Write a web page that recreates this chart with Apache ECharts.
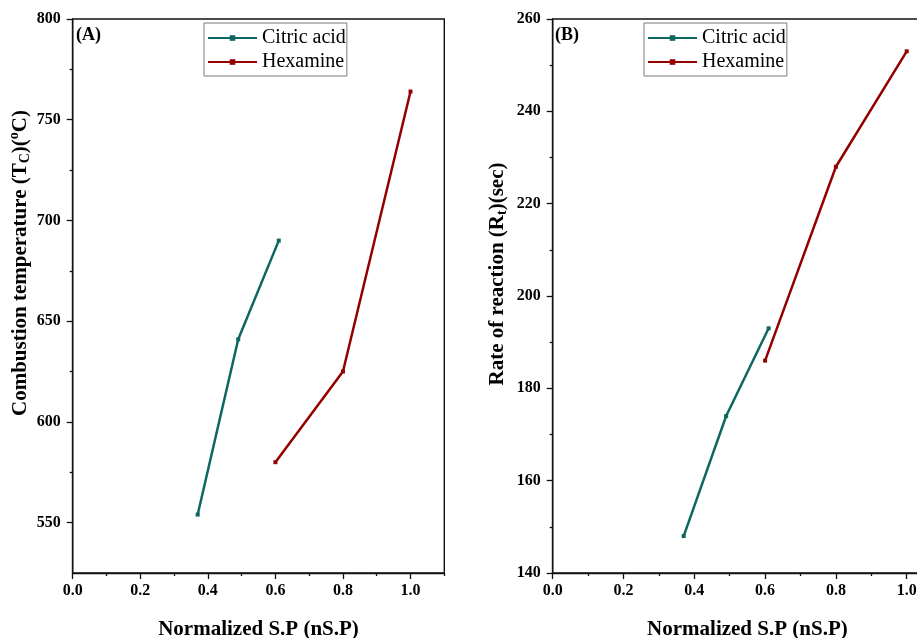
<!DOCTYPE html>
<html>
<head>
<meta charset="utf-8">
<title>Combustion temperature and rate of reaction vs normalized S.P</title>
<script src="https://cdn.jsdelivr.net/npm/echarts@6/dist/echarts.min.js"></script>
<style>
  html, body { margin: 0; padding: 0; background: #ffffff; }
  #chart { width: 917px; height: 638px; }
</style>
</head>
<body>
<div id="chart"></div>
<script>
// Normalized S.P (nS.P) of each fuel
const spCitric = [0.37, 0.49, 0.61];
const spHexamine = [0.6, 0.8, 1.0];

// (A) Combustion temperature Tc (°C)
const tempCitric = [554, 641, 690];
const tempHexamine = [580, 625, 764];

// (B) Rate of reaction Rt (sec)
const rateCitric = [148, 174, 193];
const rateHexamine = [186, 228, 253];

// Tick positions
const xMajorTicks = [0, 0.2, 0.4, 0.6, 0.8, 1.0];
const xMinorTicks = [0.1, 0.3, 0.5, 0.7, 0.9, 1.1];
const tempMajorTicks = [550, 600, 650, 700, 750, 800];
const tempMinorTicks = [575, 625, 675, 725, 775];
const rateMajorTicks = [140, 160, 180, 200, 220, 240, 260];
const rateMinorTicks = [150, 170, 190, 210, 230, 250];

const seriesNames = ['Citric acid', 'Hexamine'];
const panelTags = ['(A)', '(B)'];

const SERIF = '"Liberation Serif", "Times New Roman", serif';
const TEAL = '#0d6662';
const WINE = '#930000';
const AXIS_COLOR = '#111111';

function pairs(xs, ys) {
  return xs.map((x, i) => [x, ys[i]]);
}

const subSup = {
  sub: { fontFamily: SERIF, fontWeight: 'bold', fontSize: 14, color: '#000', verticalAlign: 'bottom', lineHeight: 25 },
  sup: { fontFamily: SERIF, fontWeight: 'bold', fontSize: 14, color: '#000', verticalAlign: 'top', lineHeight: 25 }
};

function xAxisPair(gridIndex) {
  return [
    {
      type: 'value', gridIndex, min: 0, max: 1.1, position: 'bottom',
      name: 'Normalized S.P (nS.P)', nameLocation: 'middle', nameGap: 46,
      nameTextStyle: { fontFamily: SERIF, fontWeight: 'bold', fontSize: 21, color: '#000' },
      axisLine: { show: true, onZero: false, lineStyle: { color: AXIS_COLOR, width: 1.4 } },
      axisTick: { show: true, inside: false, length: 6, customValues: xMajorTicks, lineStyle: { color: AXIS_COLOR, width: 1.3 } },
      axisLabel: {
        customValues: xMajorTicks, margin: 10,
        formatter: v => Number(v).toFixed(1),
        fontFamily: SERIF, fontWeight: 'bold', fontSize: 16, color: '#000'
      },
      splitLine: { show: false }
    },
    {
      type: 'value', gridIndex, min: 0, max: 1.1, position: 'bottom',
      axisLine: { show: false },
      axisTick: { show: true, inside: false, length: 3, customValues: xMinorTicks, lineStyle: { color: AXIS_COLOR, width: 1.3 } },
      axisLabel: { show: false },
      splitLine: { show: false }
    }
  ];
}

function yAxisPair(gridIndex, min, max, major, minor, name, nameGap, shift) {
  return [
    {
      type: 'value', gridIndex, min, max, position: 'left',
      name, nameLocation: 'middle', nameGap, nameRotate: 90,
      nameTextStyle: {
        fontFamily: SERIF, fontWeight: 'bold', fontSize: 21, color: '#000', lineHeight: 25,
        padding: [0, 0, 0, shift * 2], rich: subSup
      },
      axisLine: { show: true, onZero: false, lineStyle: { color: AXIS_COLOR, width: 1.4 } },
      axisTick: { show: true, inside: false, length: 6, customValues: major, lineStyle: { color: AXIS_COLOR, width: 1.3 } },
      axisLabel: {
        customValues: major, margin: 12,
        fontFamily: SERIF, fontWeight: 'bold', fontSize: 16, color: '#000'
      },
      splitLine: { show: false }
    },
    {
      type: 'value', gridIndex, min, max, position: 'left',
      axisLine: { show: false },
      axisTick: { show: true, inside: false, length: 3, customValues: minor, lineStyle: { color: AXIS_COLOR, width: 1.3 } },
      axisLabel: { show: false },
      splitLine: { show: false }
    }
  ];
}

function legendAt(left) {
  return {
    left, top: 23, orient: 'vertical', data: seriesNames,
    itemWidth: 49, itemHeight: 7, itemGap: 4,
    padding: [5, 1, 4, 3],
    borderColor: '#7a7a7a', borderWidth: 1,
    selectedMode: false,
    textStyle: { fontFamily: SERIF, fontSize: 20, color: '#000', lineHeight: 20 }
  };
}

function lineSeries(name, color, data, axisIndex) {
  return {
    type: 'line', name, data,
    xAxisIndex: axisIndex, yAxisIndex: axisIndex,
    symbol: 'rect', symbolSize: 4,
    lineStyle: { color, width: 2.5 },
    itemStyle: { color },
    emphasis: { disabled: true },
    animation: false
  };
}

const chart = echarts.init(document.getElementById('chart'), null, { renderer: 'canvas' });

chart.setOption({
  backgroundColor: '#ffffff',
  animation: false,
  grid: [
    { left: 72.7, top: 19, right: 472.7, bottom: 65, show: true, borderColor: AXIS_COLOR, borderWidth: 1.4, outerBoundsMode: 'none' },
    { left: 552.7, top: 19, width: 389.4, bottom: 65, show: true, borderColor: AXIS_COLOR, borderWidth: 1.4, outerBoundsMode: 'none' }
  ],
  xAxis: [...xAxisPair(0), ...xAxisPair(1)],
  yAxis: [
    ...yAxisPair(0, 525, 800, tempMajorTicks, tempMinorTicks,
      'Combustion temperature (T{sub|C})({sup|o}C)', 37, 33),
    ...yAxisPair(1, 140, 260, rateMajorTicks, rateMinorTicks,
      'Rate of reaction (R{sub|t})(sec)', 43, 22)
  ],
  legend: [legendAt(204), legendAt(644)],
  graphic: [
    { type: 'text', left: 76, top: 26, style: { text: panelTags[0], font: 'bold 18px ' + SERIF, fill: '#000' } },
    { type: 'text', left: 555, top: 26, style: { text: panelTags[1], font: 'bold 18px ' + SERIF, fill: '#000' } }
  ],
  series: [
    lineSeries(seriesNames[0], TEAL, pairs(spCitric, tempCitric), 0),
    lineSeries(seriesNames[1], WINE, pairs(spHexamine, tempHexamine), 0),
    lineSeries(seriesNames[0], TEAL, pairs(spCitric, rateCitric), 2),
    lineSeries(seriesNames[1], WINE, pairs(spHexamine, rateHexamine), 2)
  ]
});
</script>
</body>
</html>
